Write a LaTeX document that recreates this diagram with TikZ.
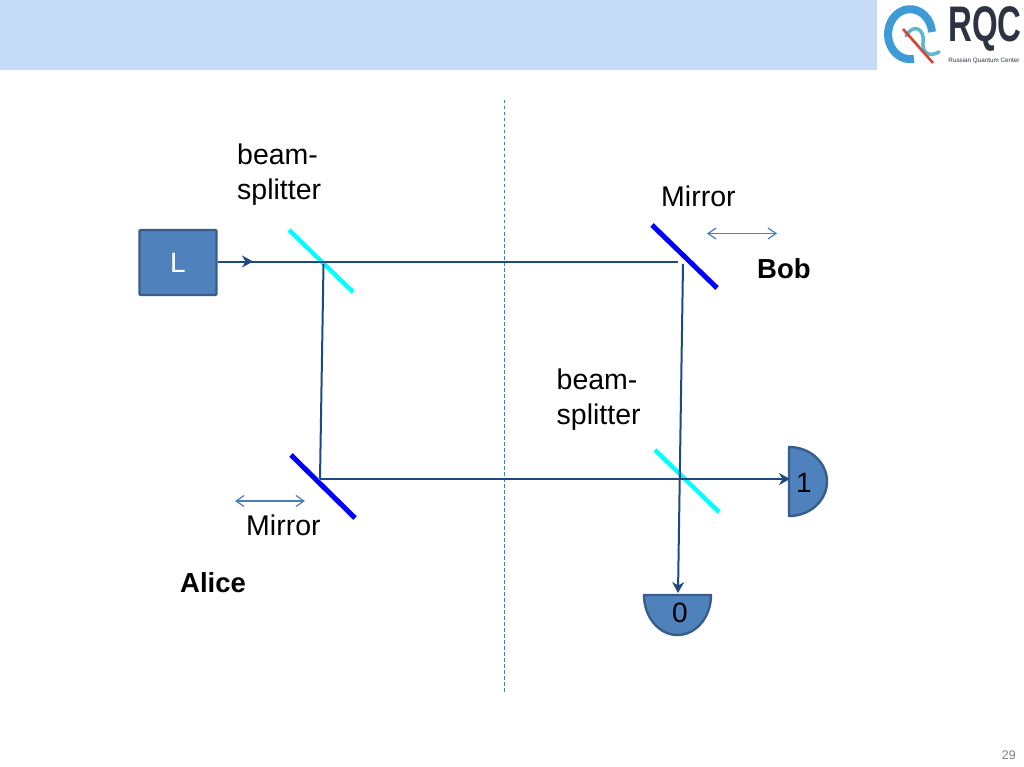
\documentclass[tikz,border=0pt]{standalone}
\usepackage{fontspec}
\setmainfont{Liberation Sans}
\usetikzlibrary{arrows.meta,positioning}
\definecolor{band}{HTML}{C6DBF8}
\definecolor{fillblue}{HTML}{4F81BD}
\definecolor{edgeblue}{HTML}{385D8A}
\definecolor{beam}{HTML}{1F4A7F}
\definecolor{thinblue}{HTML}{4A7EBB}
\definecolor{logoblue}{HTML}{3E9BD6}
\definecolor{logoteal}{HTML}{5FB7CF}
\definecolor{logored}{HTML}{D9432F}
\definecolor{logodark}{HTML}{2B3440}
\definecolor{cyanbar}{HTML}{00FFFF}
\definecolor{bluebar}{HTML}{0000FF}
\tikzset{
  labeltext/.style={font=\fontsize{28.5}{35}\selectfont,text=black,align=left,inner sep=0pt},
  boldtext/.style={font=\fontsize{27.5}{33}\selectfont\bfseries,text=black,inner sep=0pt},
  detector/.style={fill=fillblue,draw=edgeblue,line width=2.4pt,line join=round},
  ray/.style={draw=beam,line width=2pt},
  rayarrow/.style={ray,-{Stealth[length=11pt,width=12pt,inset=3.5pt]}},
  splitter/.style={draw=cyanbar,line width=4.4pt},
  mirrorbar/.style={draw=bluebar,line width=5pt},
  shiftarrow/.style={draw=thinblue,line width=1.2pt,{Straight Barb[length=8pt,width=11pt]}-{Straight Barb[length=8pt,width=11pt]}},
}
\begin{document}
\begin{tikzpicture}[x=1pt,y=-1pt]
\useasboundingbox (0,0) rectangle (1024,767);
\fill[white] (0,0) rectangle (1024,767);
\fill[band] (0,0) rectangle (877,70);
% logo
\draw[logoblue,line width=8pt] (932,32) arc[start angle=5,end angle=280,x radius=22pt,y radius=25pt];
\draw[logoteal,line width=3.5pt,line cap=round] (906,36) .. controls (914,22) and (925,30) .. (923,42) .. controls (922,52) and (928,58) .. (939,52);
\draw[logored,line width=2.6pt] (903,29) -- (933,63);
\node[font=\fontsize{50}{50}\selectfont\bfseries,text=logodark,inner sep=0pt,xscale=0.66] (logoname) at (985,29) {RQC};
\node[font=\fontsize{6.3}{7}\selectfont,text=logodark,inner sep=0pt] (logosub) at (984,61) {Russian Quantum Center};
% divider
\coordinate (divtop) at (504,100);
\coordinate (divbot) at (504,692);
\draw[thinblue,line width=1pt,dash pattern=on 3.5pt off 2.5pt] (divtop) -- (divbot);
% source
\node[draw=edgeblue,fill=fillblue,line width=2.4pt,rounded corners=1pt,minimum width=77pt,minimum height=65pt,inner sep=0pt,font=\fontsize{28}{28}\selectfont,text=white] (source) at (178,262.5) {L};
% optics centres
\coordinate (mA) at (320,479);
\coordinate (bsAend) at (323.5,264);
\coordinate (mBin) at (678,261.5);
\coordinate (mBout) at (683,264);
% mirrors and splitters
\draw[splitter] (289,230) -- (353,292);
\draw[splitter] (655,450) -- (719,512);
\draw[mirrorbar] (652,225) -- (717,288);
\draw[mirrorbar] (291,455) -- (355,518);
% detectors
\path[detector] (789,447) arc[start angle=90,end angle=-90,x radius=38pt,y radius=34.5pt] -- cycle;
\node[font=\fontsize{28}{28}\selectfont,inner sep=0pt] (one) at (804,483) {1};
\path[detector] (644,595) arc[start angle=180,end angle=360,x radius=33.5pt,y radius=40pt] -- cycle;
\node[font=\fontsize{28}{28}\selectfont,inner sep=0pt] (zero) at (680,613) {0};
\coordinate (oneIn) at (790,479);
\coordinate (zeroIn) at (678,593);
\coordinate (arrowmid) at (253,261.5);
% rays
\draw[ray] (source.east |- arrowmid) -- (mBin);
\draw[rayarrow] (source.east |- arrowmid) -- (arrowmid);
\draw[ray] (bsAend) -- (mA);
\draw[rayarrow] (mA) -- (oneIn);
\draw[rayarrow] (mBout) -- (zeroIn);
% shift arrows
\coordinate (sbL) at (707,233.5);
\coordinate (sbR) at (777,233.5);
\coordinate (saL) at (235,501);
\coordinate (saR) at (305,501);
\draw[shiftarrow] (sbL) -- (sbR);
\draw[shiftarrow] (saL) -- (saR);
% labels
\node[labeltext,anchor=north west] (bs1) at (237,144) {beam-\\splitter};
\node[labeltext,anchor=north west] (bs2) at (556.5,369) {beam-\\splitter};
\node[labeltext,anchor=west] (m1) at (661,196) {Mirror};
\node[labeltext,anchor=west] (m2) at (246,525) {Mirror};
\node[boldtext,anchor=west] (bob) at (757,269) {Bob};
\node[boldtext,anchor=west] (alice) at (180,583) {Alice};
\node[font=\fontsize{12.5}{13}\selectfont,text=gray,inner sep=0pt,anchor=east] (page) at (1016,755) {29};
\end{tikzpicture}
\end{document}
